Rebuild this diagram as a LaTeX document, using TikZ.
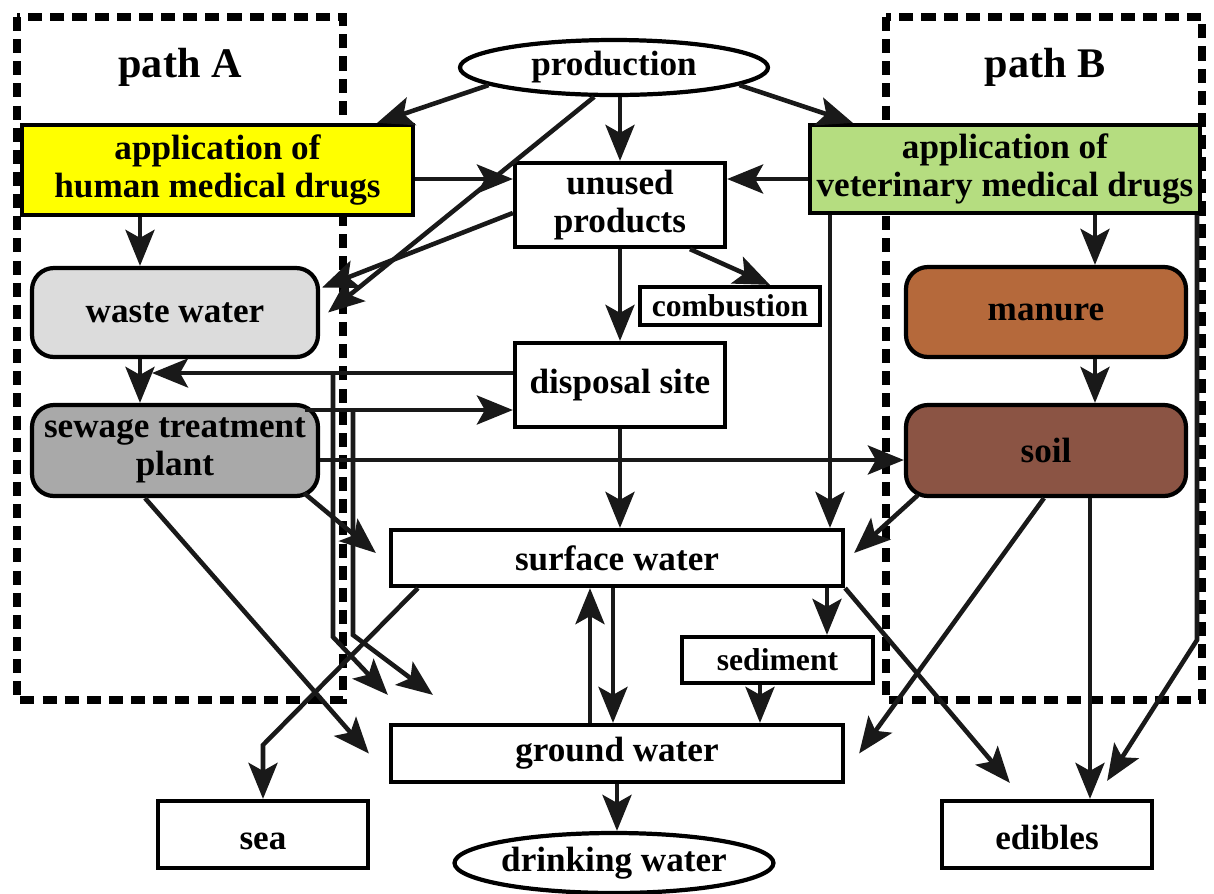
\documentclass[tikz,border=0pt]{standalone}
\usepackage{fontspec}
\setmainfont{Liberation Serif}
\usepackage{xcolor}
\usetikzlibrary{arrows.meta, shapes.geometric, calc}

\definecolor{humanyellow}{HTML}{FFFF00}
\definecolor{vetgreen}{HTML}{B5DD80}
\definecolor{wastegray}{HTML}{DCDCDC}
\definecolor{sewagegray}{HTML}{A9A9A9}
\definecolor{manurebrown}{HTML}{B5693B}
\definecolor{soilbrown}{HTML}{8B5444}

\tikzset{
  BoxStyle/.style={draw, fill=white, line width=1.2pt, inner sep=0pt, align=center,
    font=\bfseries\fontsize{10}{10.8}\selectfont},
  RoundStyle/.style={BoxStyle, rounded corners=0.22cm},
  OvalStyle/.style={BoxStyle, ellipse},
  SmallStyle/.style={BoxStyle, font=\bfseries\fontsize{9}{10}\selectfont},
  EdgeStyle/.style={line width=1.3pt, color=black!90,
    -{Stealth[length=3.6mm, width=2.9mm, inset=0.8mm]}},
  PathStyle/.style={line width=2pt, dash pattern=on 4pt off 2.3pt},
  TitleStyle/.style={font=\bfseries\fontsize{12}{14}\selectfont}
}

\begin{document}
\begin{tikzpicture}
\useasboundingbox (0,0) rectangle (12.14,-8.94);
\draw[PathStyle] (0.17,-0.17) rectangle (3.43,-7.00);
\draw[PathStyle] (8.86,-0.17) rectangle (12.02,-7.00);
\node[TitleStyle] (pathA) at (1.80,-0.67) {path A};
\node[TitleStyle] (pathB) at (10.45,-0.67) {path B};

\node[OvalStyle, minimum width=3.08cm, minimum height=0.55cm] (prod) at (6.14,-0.675) {production};
\node[BoxStyle, fill=humanyellow, minimum width=3.91cm, minimum height=0.90cm] (hum) at (2.175,-1.70) {application of\\human medical drugs};
\node[BoxStyle, minimum width=2.10cm, minimum height=0.84cm] (unu) at (6.20,-2.05) {unused\\products};
\node[BoxStyle, fill=vetgreen, minimum width=3.90cm, minimum height=0.88cm] (vet) at (10.05,-1.69) {application of\\veterinary medical drugs};
\node[RoundStyle, fill=wastegray, minimum width=2.86cm, minimum height=0.89cm] (waste) at (1.75,-3.125) {waste water};
\node[SmallStyle, minimum width=1.80cm, minimum height=0.38cm] (comb) at (7.30,-3.06) {combustion};
\node[RoundStyle, fill=manurebrown, minimum width=2.80cm, minimum height=0.90cm] (man) at (10.46,-3.12) {manure};
\node[BoxStyle, minimum width=2.10cm, minimum height=0.84cm] (disp) at (6.20,-3.85) {disposal site};
\node[RoundStyle, fill=sewagegray, minimum width=2.86cm, minimum height=0.91cm] (sew) at (1.75,-4.505) {sewage treatment\\plant};
\node[RoundStyle, fill=soilbrown, minimum width=2.80cm, minimum height=0.91cm] (soil) at (10.46,-4.505) {soil};
\node[BoxStyle, minimum width=4.52cm, minimum height=0.56cm] (surf) at (6.17,-5.58) {surface water};
\node[SmallStyle, minimum width=1.91cm, minimum height=0.46cm] (sed) at (7.775,-6.60) {sediment};
\node[BoxStyle, minimum width=4.52cm, minimum height=0.57cm] (ground) at (6.17,-7.535) {ground water};
\node[BoxStyle, minimum width=2.10cm, minimum height=0.67cm, text height=0.30cm, text depth=0cm] (sea) at (2.63,-8.345) {sea};
\node[OvalStyle, minimum width=3.08cm, minimum height=0.60cm] (drink) at (6.14,-8.63) {drinking water};
\node[BoxStyle, minimum width=2.10cm, minimum height=0.67cm, text height=0.30cm, text depth=0cm] (edib) at (10.47,-8.345) {edibles};

\coordinate (wsend) at (1.52,-3.73);
\coordinate (gwA) at ($(ground.north west)+(-0.01,0.28)$);
\coordinate (gwB) at ($(ground.north west)+(0.44,0.28)$);

\draw[EdgeStyle] (prod.188) -- ([xshift=-0.38cm]hum.north east);
\draw[EdgeStyle] (prod.352) -- ([xshift=0.45cm]vet.north west);
\draw[EdgeStyle] (unu.north |- prod.south) -- (unu.north);
\draw[EdgeStyle] (prod.236) -- ([xshift=0.08cm]waste.east);
\draw[EdgeStyle] ([yshift=-0.08cm]unu.west) -- ([xshift=0.02cm,yshift=0.25cm]waste.east);
\draw[EdgeStyle] (hum.east |- 0,-1.79) -- (unu.west |- 0,-1.79);
\draw[EdgeStyle] (vet.west |- 0,-1.79) -- (unu.east |- 0,-1.79);
\draw[EdgeStyle] (hum.south -| 1.40,0) -- (waste.north -| 1.40,0);
\draw[EdgeStyle] ([xshift=0.70cm]unu.south) -- ([xshift=0.40cm]comb.north);
\draw[EdgeStyle] (unu.south) -- (disp.north);
\draw[EdgeStyle] (disp.west |- 0,-3.73) -- (wsend);
\draw[EdgeStyle] (3.33,-3.73) -- (3.33,-6.37) -- (gwA);
\draw[EdgeStyle] (waste.south -| 1.40,0) -- (sew.north -| 1.40,0);
\draw[EdgeStyle] (3.05,-4.10) -- (disp.west |- 0,-4.10);
\draw[EdgeStyle] (3.53,-4.10) -- (3.53,-6.35) -- (gwB);
\draw[EdgeStyle] (sew.east |- 0,-4.60) -- (soil.west |- 0,-4.60);
\draw[EdgeStyle] ([xshift=-0.16cm,yshift=0.05cm]sew.south east) -- ([xshift=-0.13cm,yshift=0.05cm]surf.west);
\draw[EdgeStyle] (sew.south -| 1.45,0) -- ([xshift=-0.2cm]ground.west);
\draw[EdgeStyle] (disp.south) -- (surf.north -| disp.south);
\draw[EdgeStyle] (vet.south -| 8.30,0) -- (surf.north -| 8.30,0);
\draw[EdgeStyle] (vet.south -| 10.95,0) -- (man.north -| 10.95,0);
\draw[EdgeStyle] (man.south -| 10.95,0) -- (soil.north -| 10.95,0);
\draw[EdgeStyle] ([xshift=0.14cm,yshift=0.03cm]soil.south west) -- ([xshift=0.09cm,yshift=0.05cm]surf.east);
\draw[EdgeStyle] ([xshift=-0.02cm]soil.south) -- ([xshift=0.14cm]ground.east);
\draw[EdgeStyle] (soil.south -| 10.90,0) -- (edib.north -| 10.90,0);
\draw[EdgeStyle] (vet.south -| 11.97,0) -- (11.97,-6.40) -- ([xshift=-0.47cm,yshift=0.18cm]edib.north east);
\draw[EdgeStyle] (surf.south east) -- ([xshift=0.70cm,yshift=0.16cm]edib.north west);
\draw[EdgeStyle] (surf.south -| 8.27,0) -- (sed.north -| 8.27,0);
\draw[EdgeStyle] (sed.south -| 7.60,0) -- (ground.north -| 7.60,0);
\draw[EdgeStyle] ([xshift=0.29cm]surf.south west) -- (2.63,-7.45) -- (sea.north);
\draw[EdgeStyle] (ground.north -| 5.90,0) -- (surf.south -| 5.90,0);
\draw[EdgeStyle] (surf.south -| 6.13,0) -- (ground.north -| 6.13,0);
\draw[EdgeStyle] (ground.south) -- (ground.south |- drink.north);
\end{tikzpicture}
\end{document}
